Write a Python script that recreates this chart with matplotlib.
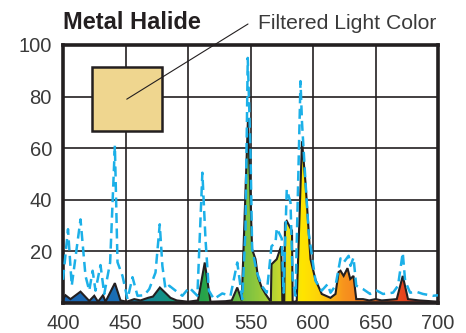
import matplotlib
matplotlib.use("Agg")
import numpy as np
import matplotlib.pyplot as plt
from matplotlib.colors import LinearSegmentedColormap
from matplotlib.patches import Polygon, Rectangle

plt.rcParams["font.family"] = ["Liberation Sans", "DejaVu Sans"]

# filtered spectrum (filled, black outline)
fill_nm = [400, 402, 406, 414, 421, 425, 428, 432, 434, 441.5, 446, 451, 457, 462,
           468, 472, 477.5, 486, 491, 500, 508, 513.4, 518, 530, 535, 539.4, 543,
           548, 551.3, 554, 556, 559, 562, 565.5, 566.3, 566.8, 571, 574.5, 575.5,
           577, 577.6, 579, 582, 583.2, 583.7, 586, 587, 591.2, 594, 598, 602, 607,
           614, 618, 620.5, 622, 624.5, 627.6, 629.8, 632.4, 634.6, 640, 645, 650,
           655, 660, 667, 671.8, 676, 685, 700]
fill_val = [1.5, 3, 1.5, 4.4, 0.8, 2.8, 0.5, 3, 0.5, 7.7, 1, 0.5, 1.5, 1,
            2, 2.5, 6, 2, 1, 0.5, 1, 15.7, 0.5, 0.7, 1, 6, 1,
            71.7, 20.8, 17, 10, 6, 3.5, 1, 1, 15, 17, 22, 0.5,
            0.5, 31, 31.8, 29, 28, 0.5, 0.5, 1, 62.7, 46.6, 17, 9, 3.5,
            2, 3.5, 12, 12.5, 10.5, 13.5, 9.3, 10.5, 1.5, 1.5, 1, 1.5,
            1, 1.2, 1.5, 10.5, 1.5, 1, 0.5]

# unfiltered spectrum (dashed)
lamp_nm = [400, 404, 407, 414, 418, 421, 423.7, 426, 430, 433, 437.7, 441.5, 443.6,
           447.6, 451.6, 455.6, 459.6, 465, 469, 474, 477.4, 479.5, 482, 485, 490,
           495.5, 501, 507.5, 511.5, 514, 516.7, 520.7, 527.4, 534, 539.4, 543.4,
           546, 547.8, 550, 551.3, 555, 559, 563, 566.8, 570, 571, 575, 576.5, 579,
           582, 583.7, 586, 590, 591.2, 594, 596.6, 602, 607, 611.7, 614, 618, 622,
           624.5, 628.5, 630, 632.4, 634.6, 640, 645.7, 651, 656, 664, 668, 671.8,
           673.7, 677.7, 683, 688, 696, 700]
lamp_val = [9, 28.6, 6.7, 32.4, 10.5, 4.8, 12.5, 4.8, 14.7, 3.5, 15.7, 61, 15.8,
            10.5, 1.5, 10, 2.8, 3, 5.4, 11.8, 30.5, 14.4, 5.4, 6.7, 4.8,
            2.8, 6, 2.8, 50.5, 24.7, 4.8, 1.5, 3.7, 2.8, 15.7, 1.5,
            28.6, 95, 59, 21, 12, 6.7, 4, 22, 23.4, 29, 25, 4, 44,
            39, 9.3, 2.8, 86, 70, 47, 27, 8.6, 4.8, 7.3, 4, 6.7, 17.3,
            15.7, 18.3, 14.4, 17.6, 6.7, 5.4, 3.5, 4.8, 3.5, 4, 6.7, 19.5,
            8.6, 4, 4.3, 3.5, 2.8, 3]

# spectral colours along the wavelength axis
grad_nm = [400, 445, 478, 513, 548, 570, 580, 592, 605, 625, 650, 672, 700]
grad_col = ["#1b64b0", "#1a6fb5", "#13908a", "#27a448", "#7dc242", "#b8d432",
            "#e6e21e", "#ffe500", "#fdd20a", "#f7941d", "#f26f21", "#e8461e", "#c1272d"]

x_ticks = [400, 450, 500, 550, 600, 650, 700]
y_ticks = [20, 40, 60, 80, 100]

ink = "#231f20"
txt = "#3a3a3a"

fig = plt.figure(figsize=(4.66, 3.33), dpi=100)
ax = fig.add_axes([63 / 466, 30 / 333, 375 / 466, 258 / 333])
ax.set_xlim(400, 700)
ax.set_ylim(0, 100)

ax.set_xticks(x_ticks)
ax.set_yticks(y_ticks)
ax.tick_params(length=0, labelsize=14.5, labelcolor=txt, pad=8)
ax.grid(color=ink, lw=1.2)
ax.set_axisbelow(True)
for s in ax.spines.values():
    s.set_linewidth(2.6)
    s.set_color(ink)

# gradient fill clipped to the spectrum
pos = [(n - 400) / 300 for n in grad_nm]
cmap = LinearSegmentedColormap.from_list("spec", list(zip(pos, grad_col)))
im = ax.imshow(np.linspace(0, 1, 600)[None, :], extent=[400, 700, 0, 100],
               cmap=cmap, aspect="auto", zorder=2, interpolation="bilinear")
verts = list(zip(fill_nm, fill_val)) + [(700, 0), (400, 0)]
poly = Polygon(verts, closed=True, facecolor="none", edgecolor="none")
ax.add_patch(poly)
im.set_clip_path(poly)
ax.plot(fill_nm, fill_val, color=ink, lw=1.5, zorder=3, solid_joinstyle="miter")

ax.plot(lamp_nm, lamp_val, color="#1cb0e8", lw=1.8, ls=(0, (4, 2.2)), zorder=4)

# filtered light colour swatch
ax.add_patch(Rectangle((423, 66.5), 56, 25, facecolor="#efd68f", edgecolor=ink,
                       lw=1.8, zorder=5))
ax.annotate("", xy=(451, 79), xytext=(248 / 466, 1 - 24 / 333),
            textcoords="figure fraction", annotation_clip=False,
            arrowprops=dict(arrowstyle="-", color=ink, lw=0.8, shrinkA=0, shrinkB=0),
            zorder=6)

fig.text(63 / 466, 1 - 29 / 333, "Metal Halide", fontsize=17, fontweight="bold",
         color=ink, va="baseline")
fig.text(258 / 466, 1 - 29 / 333, "Filtered Light Color", fontsize=15.2,
         color=txt, va="baseline")

fig.savefig("out.png", dpi=100)
